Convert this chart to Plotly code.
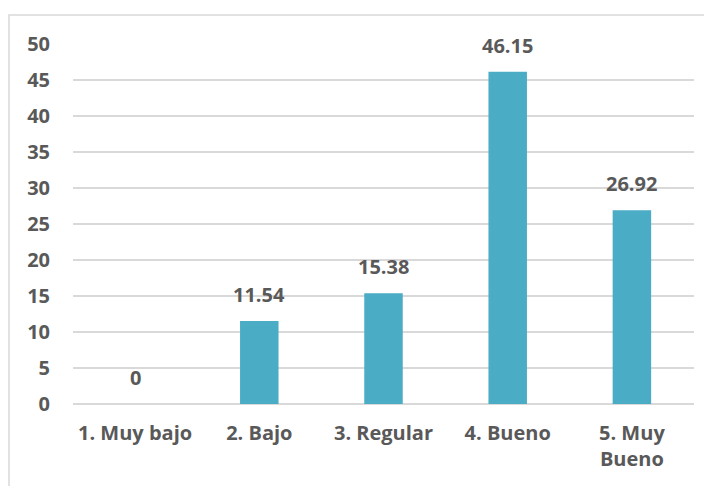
import plotly.graph_objects as go

categories = ["1. Muy bajo", "2. Bajo", "3. Regular", "4. Bueno", "5. Muy<br>Bueno"]
values = [0, 11.54, 15.38, 46.15, 26.92]
labels = ["0", "11.54", "15.38", "46.15", "26.92"]
yticks = [0, 5, 10, 15, 20, 25, 30, 35, 40, 45, 50]

FONT = "Open Sans"
TXT = "#595959"
GRID = "#D9D9D9"

fig = go.Figure()
fig.add_trace(go.Bar(
    x=categories, y=values,
    marker=dict(color="#4BACC6", line=dict(width=0)),
    width=0.31,
    hoverinfo="skip",
))

for c, v, t in zip(categories, values, labels):
    fig.add_annotation(
        x=c, y=v, text="<b>%s</b>" % t, showarrow=False,
        yanchor="bottom", yshift=11,
        font=dict(family=FONT, size=20, color=TXT),
    )

# plot area in figure px: x 65..686, y 36..396
fig.add_shape(
    type="rect", xref="paper", yref="paper",
    x0=(1 - 65) / 621, x1=1.2, y0=-0.4, y1=(396 - 7) / 360,
    line=dict(color=GRID, width=1.5), fillcolor="rgba(0,0,0,0)",
    layer="below",
)

fig.update_layout(
    width=704, height=478,
    margin=dict(l=65, r=18, t=36, b=82),
    paper_bgcolor="white", plot_bgcolor="white",
    showlegend=False,
    font=dict(family=FONT, size=20, color=TXT),
    xaxis=dict(
        showgrid=False, showline=False, ticks="",
        tickmode="array", tickvals=categories,
        ticktext=["<b>%s</b>" % c for c in categories],
        tickfont=dict(family=FONT, size=20, color=TXT),
        ticklabelstandoff=15,
    ),
    yaxis=dict(
        range=[0, 50], tickmode="array", tickvals=yticks,
        ticktext=["<b>%d</b>" % v for v in yticks],
        showgrid=True, gridcolor=GRID, gridwidth=1.5,
        zeroline=True, zerolinecolor=GRID, zerolinewidth=1.5,
        showline=False, ticks="",
        tickfont=dict(family=FONT, size=20, color=TXT),
        ticklabelstandoff=22,
    ),
)

fig.write_html("out.html")
